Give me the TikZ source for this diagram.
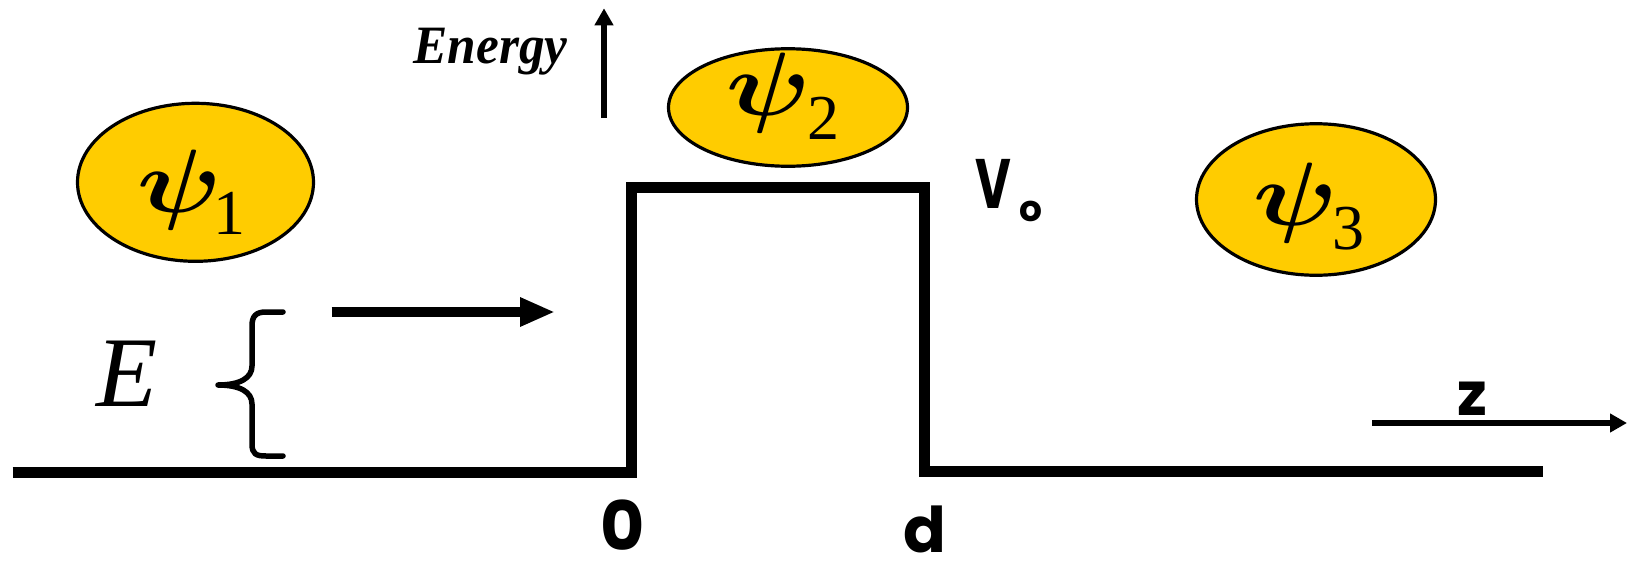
\documentclass[tikz,border=0pt]{standalone}
\usepackage{fontspec}
\usepackage{graphicx}
\usetikzlibrary{shapes.geometric,arrows.meta}
\newfontfamily\timesf{Liberation Serif}
\newfontfamily\comic{Poppins}
\definecolor{gold}{HTML}{FFCC00}
\newcommand{\bigpsi}{\scalebox{10.6}[9]{\boldmath$\psi$}}
\tikzset{
  wavebox/.style={ellipse, draw=black, line width=3.2pt, fill=gold, inner sep=0pt},
  psitext/.style={inner sep=0pt, anchor=south},
  subtext/.style={inner sep=0pt, anchor=south, font=\timesf\fontsize{64}{64}\selectfont},
  comictext/.style={inner sep=0pt, anchor=base, font=\comic\bfseries},
  wellline/.style={line width=11pt, line join=miter},
  bigarrow/.style={line width=10.7pt, -{Triangle[length=35pt,width=27pt]}},
  thinarrow/.style={line width=5.5pt, -{Triangle[length=17pt,width=18pt]}},
  braceline/.style={line width=5.5pt, line cap=round, line join=round}
}
\begin{document}
\begin{tikzpicture}[x=1pt,y=-1pt]
\useasboundingbox (0,0) rectangle (1635,562);

% potential profile
\draw[wellline] (12.5,472) -- (631.7,472) -- (631.7,187.5) -- (924,187.5) -- (924,471.5) -- (1543,471.5);

% wavefunction ellipses
\node[wavebox, minimum width=236pt, minimum height=158pt] (e1) at (195.5,182.3) {};
\node[wavebox, minimum width=239pt, minimum height=117.5pt] (e2) at (788,107.5) {};
\node[wavebox, minimum width=239pt, minimum height=151.5pt] (e3) at (1316,199.5) {};

\node[psitext] (p1) at (179.2,230) {\bigpsi};
\node[subtext] (s1) at (229,235) {1};
\node[psitext] (p2) at (768.3,133) {\bigpsi};
\node[subtext] (s2) at (823,140) {2};
\node[psitext] (p3) at (1295.5,243) {\bigpsi};
\node[subtext] (s3) at (1348.5,250) {3};

% Energy axis
\node[inner sep=0pt, anchor=base] (en) at (490.5,63) {\scalebox{1.14}[1.2]{\timesf\fontsize{45}{45}\selectfont\bfseries\itshape Energy}};
\coordinate (ea0) at (604,118);
\coordinate (ea1) at (604,8.3);
\draw[thinarrow] (ea0) -- (ea1);

% E label, brace and incident arrow
\node[inner sep=0pt, anchor=base, font=\timesf\itshape\fontsize{100}{100}\selectfont] (E) at (127.5,406.7) {E};
\draw[braceline] (283,312) -- (266,312) .. controls (256,312) and (252,316) .. (252,326) -- (252,366) .. controls (252,378) and (240,385) .. (218,385)
  .. controls (240,385) and (252,392) .. (252,404) -- (252,444) .. controls (252,454) and (256,456) .. (266,456) -- (283,456);
\coordinate (ia0) at (331.7,312);
\coordinate (ia1) at (555,312);
\draw[bigarrow] (ia0) -- (ia1);

% labels
\node[comictext, anchor=base west, font=\comic\bfseries\fontsize{70}{70}\selectfont] (V) at (975,208.5) {\scalebox{0.7}[1]{V}\hspace{9pt}\raisebox{-12.5pt}{\fontsize{36}{36}\selectfont o}};
\node[comictext, font=\comic\bfseries\fontsize{68}{68}\selectfont] (zero) at (622.5,550) {0};
\node[comictext, font=\comic\bfseries\fontsize{63}{63}\selectfont] (dd) at (925,552) {d};
\node[comictext, font=\comic\bfseries\fontsize{60}{60}\selectfont] (zz) at (1472.5,415) {z};

% z axis
\coordinate (za0) at (1372,423);
\coordinate (za1) at (1627,423);
\draw[line width=6pt, -{Triangle[length=17pt,width=18pt]}] (za0) -- (za1);
\end{tikzpicture}
\end{document}
